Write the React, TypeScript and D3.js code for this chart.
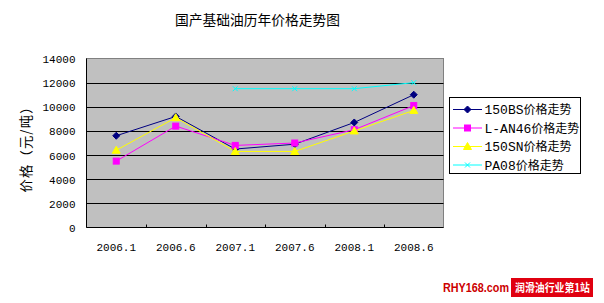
import React from "react";
import * as d3 from "d3";

const categories = ["2006.1", "2006.6", "2007.1", "2007.6", "2008.1", "2008.6"];
const yTicks = [0, 2000, 4000, 6000, 8000, 10000, 12000, 14000];
const bs150 = [7600, 9200, 6500, 6900, 8700, 11000];
const lan46 = [5500, 8400, 6800, 7000, 8100, 10100];
const sn150 = [6400, 9100, 6300, 6300, 8000, 9700];
const pa08: (number | null)[] = [null, null, 11500, 11500, 11500, 12000];
const seriesCodes = ["150BS", "L-AN46", "150SN", "PA08"];
const seriesSuffix = "价格走势";
const seriesColors = ["#000080", "#FF00FF", "#FFFF00", "#00FFFF"];
const seriesMarkers = ["diamond", "square", "triangle", "x"];
const title = "国产基础油历年价格走势图";
const yTitle = "价格（元/吨）";

const W = 604, H = 303;
const L = 86.5, R = 443.5, T = 58.5, B = 227.5;

function Marker({ type, x, y, color }: { type: string; x: number; y: number; color: string }) {
  if (type === "diamond") {
    const s = 3.5;
    return <path d={`M${x},${y - s}L${x + s},${y}L${x},${y + s}L${x - s},${y}Z`} fill={color} stroke={color} />;
  }
  if (type === "square") {
    return <rect x={x - 3} y={y - 3} width={6} height={6} fill={color} stroke={color} />;
  }
  if (type === "triangle") {
    return <path d={`M${x},${y - 4}L${x + 4},${y + 3}L${x - 4},${y + 3}Z`} fill={color} stroke={color} />;
  }
  const s = 2.5;
  return <path d={`M${x - s},${y - s}L${x + s},${y + s}M${x - s},${y + s}L${x + s},${y - s}`} stroke={color} strokeWidth={1} />;
}

export default function App() {
  const x = d3.scaleBand<string>().domain(categories).range([L, R]);
  const y = d3.scaleLinear().domain([0, 14000]).range([B, T]);
  const data = [bs150, lan46, sn150, pa08];
  const line = d3
    .line<number | null>()
    .defined((d) => d != null)
    .x((_, i) => (x(categories[i]) as number) + x.bandwidth() / 2)
    .y((d) => y(d as number));
  const cjk = "'Noto Sans CJK SC', 'DejaVu Sans', sans-serif";
  const mono = "'Liberation Mono', 'DejaVu Sans Mono', monospace";
  const legX = 449.5, legY = 97.5, legW = 131, legH = 76;
  return (
    <svg width={W} height={H} style={{ position: "absolute", left: 0, top: 0 }} fontFamily={cjk}>
      <rect x={0} y={0} width={W} height={H} fill="#fff" />
      <text x={257.5} y={25} textAnchor="middle" fontSize={13.75} fill="#000">{title}</text>
      <rect x={L} y={T} width={R - L} height={B - T} fill="#C0C0C0" stroke="#808080" />
      {yTicks.map((t) => (
        <g key={t}>
          {t > 0 && t < 14000 && <line x1={L} x2={R} y1={Math.round(y(t)) + 0.5} y2={Math.round(y(t)) + 0.5} stroke="#000" />}
          <text x={75.5} y={y(t) + 4.5} textAnchor="end" fontSize={11} fontFamily={mono} fill="#000">{t}</text>
        </g>
      ))}
      <line x1={L} x2={L} y1={T} y2={B} stroke="#000" />
      <line x1={L} x2={R} y1={B} y2={B} stroke="#000" />
      {categories.map((c, i) => (
        <g key={c}>
          {i > 0 && <line x1={Math.round(x(c) as number) + 0.5} x2={Math.round(x(c) as number) + 0.5} y1={B - 3} y2={B} stroke="#000" />}
          <text x={(x(c) as number) + x.bandwidth() / 2} y={251} textAnchor="middle" fontSize={11} fontFamily={mono} fill="#000">{c}</text>
        </g>
      ))}
      <text transform={`translate(31,146.5) rotate(-90)`} textAnchor="middle" fontSize={13.3} fill="#000" textLength={92} lengthAdjust="spacing">{yTitle}</text>
      {data.map((s, k) => (
        <g key={k}>
          <path d={line(s) || ""} fill="none" stroke={seriesColors[k]} strokeWidth={1} />
          {s.map((v, i) =>
            v == null ? null : (
              <Marker key={i} type={seriesMarkers[k]} x={(x(categories[i]) as number) + x.bandwidth() / 2} y={y(v)} color={seriesColors[k]} />
            )
          )}
        </g>
      ))}
      <rect x={legX} y={legY} width={legW} height={legH} fill="#fff" stroke="#000" />
      {seriesCodes.map((n, k) => {
        const yy = legY + 12 + k * 18.5;
        return (
          <g key={n}>
            <line x1={453} x2={482} y1={yy} y2={yy} stroke={seriesColors[k]} />
            <Marker type={seriesMarkers[k]} x={467.5} y={yy} color={seriesColors[k]} />
            <text x={484.5} y={yy + 4.5} fontSize={12} fill="#000">
              <tspan fontFamily={mono} fontSize={13}>{n}</tspan>
              <tspan>{seriesSuffix}</tspan>
            </text>
          </g>
        );
      })}
      <text x={509} y={292} textAnchor="end" fontSize={13} fontWeight="bold" fill="#CC0000" fontFamily="'Liberation Sans', Arial, sans-serif" textLength={66} lengthAdjust="spacingAndGlyphs">RHY168.com</text>
      <rect x={511} y={278} width={82} height={19} fill="#E00010" />
      <text x={515} y={291.5} fontSize={11} fontWeight="bold" fill="#fff" textLength={75} lengthAdjust="spacingAndGlyphs">润滑油行业第1站</text>
    </svg>
  );
}
